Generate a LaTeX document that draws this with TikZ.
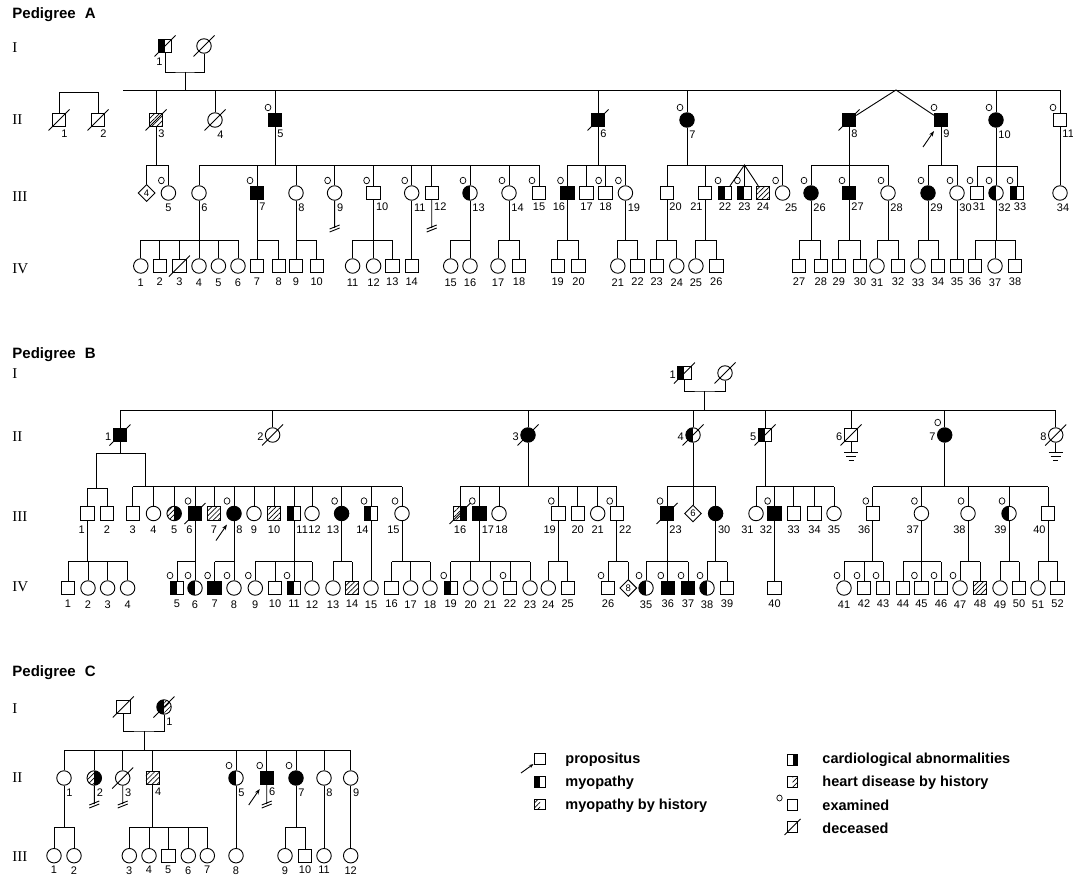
\documentclass[tikz,border=0pt]{standalone}
\usepackage{fontspec}
\setmainfont{Liberation Serif}
\setsansfont{Liberation Sans}
\usetikzlibrary{shapes.geometric,arrows.meta,patterns.meta}

% marks on a person
\newcommand{\deceased}[1]{\draw (#1.center) ++(-10.5,10.5) -- ++(21,-21);}
\newcommand{\examined}[1]{\draw[line width=0.7pt] (#1.center) ++(-7,-12.5) ellipse[x radius=2.9pt,y radius=3.3pt];}
\newcommand{\propos}[1]{\draw[-{Stealth[length=5.5pt,width=4pt]}] (#1.center) ++(-18,27) -- ++(11,-16);}
\newcommand{\noissue}[2][35]{\draw (#2) -- ++(0,#1) ++(-5,1) -- ++(10,-4) ++(-10,7) -- ++(10,-4);}
\newcommand{\ground}[1]{\draw (#1) -- ++(0,17) ++(-7,0) -- ++(14,0) ++(-12,4) -- ++(10,0) ++(-7.5,4) -- ++(5,0);}
% sibship bar: junction, first, last, all children
\newcommand{\sibship}[4]{\draw (#2 |- #1) -- (#3 |- #1);
  \foreach \kid in {#4} {\draw (\kid) -- (\kid |- #1);}}

\tikzset{
  male/.style={draw, rectangle, minimum size=13.5pt, inner sep=0pt},
  fem/.style={draw, circle, minimum size=14.5pt, inner sep=0pt},
  unk/.style={draw, diamond, minimum size=17pt, inner sep=0pt, font=\sffamily\fontsize{9.5}{9.5}\selectfont},
  hatchpat/.style={pattern={Lines[angle=45,distance=3.5pt,line width=0.7pt]}},
  full/.style={fill=black},
  hatch/.style={hatchpat},
  myo/.style={path picture={\fill (path picture bounding box.south west) rectangle (path picture bounding box.north);}},
  card/.style={path picture={\fill (path picture bounding box.south) rectangle (path picture bounding box.north east);}},
  myoh/.style={path picture={\fill[hatchpat] (path picture bounding box.south west) rectangle (path picture bounding box.north);}},
  heart/.style={path picture={\fill[hatchpat] (path picture bounding box.south) rectangle (path picture bounding box.north east);}},
  myohcard/.style={path picture={\fill[hatchpat] (path picture bounding box.south west) rectangle (path picture bounding box.north);
    \fill (path picture bounding box.south) rectangle (path picture bounding box.north east);}},
  myoheart/.style={path picture={\fill (path picture bounding box.south west) rectangle (path picture bounding box.north);
    \fill[hatchpat] (path picture bounding box.south) rectangle (path picture bounding box.north east);}},
  num/.style={font=\sffamily\fontsize{11}{12}\selectfont, inner sep=1pt},
  nr/.style={label={[num,anchor=north west,xshift=1pt,yshift=-1.5pt]south:#1}},
  nl/.style={label={[num,anchor=north east,xshift=-1pt,yshift=-1.5pt]south:#1}},
  nb/.style={label={[num,yshift=-1.5pt]south:#1}},
  nbx/.style 2 args={label={[num,yshift=-1.5pt,xshift=#2]south:#1}},
  Nr/.style={label={[num,anchor=north west,xshift=1pt,yshift=-3.5pt]south:#1}},
  Nl/.style={label={[num,anchor=north east,xshift=-1pt,yshift=-3.5pt]south:#1}},
  Nb/.style={label={[num,yshift=-3.5pt]south:#1}},
  Nbx/.style 2 args={label={[num,yshift=-3.5pt,xshift=#2]south:#1}},
  nw/.style={label={[num,yshift=-2pt]west:#1}},
  gen/.style={font=\fontsize{15}{15}\selectfont, anchor=west, inner sep=0pt},
  title/.style={font=\sffamily\bfseries\fontsize{15}{15}\selectfont, anchor=base west, inner sep=0pt},
  leg/.style={font=\sffamily\bfseries\fontsize{14.5}{14.5}\selectfont, anchor=base west, inner sep=0pt},
  lsym/.style={minimum size=10.5pt},
}

\begin{document}
\begin{tikzpicture}[x=1pt,y=-1pt,line width=0.9pt]

\useasboundingbox (0,0) rectangle (1073,877);

% ================= Pedigree A =================
\node[title] (ta) at (12,19) {Pedigree\hspace{0.6em}A};
\node[gen] (ga1) at (12,47.5) {I};
\node[gen] (ga2) at (12,120) {II};
\node[gen] (ga3) at (12,196.5) {III};
\node[gen] (ga4) at (12,269) {IV};

% generation I
\node[male,myo,Nl=1] (a1-1) at (165,46) {};
\node[fem] (a1-2) at (204,46) {};
\coordinate (a1m) at (185,72);
\coordinate (a2j) at (185,90);
\coordinate (a2l) at (123,90);
\draw (a1-1) |- (a1m) -| (a1-2);
\draw (a1m) -- (a2j);

% generation II
\node[male,nr=1] (a2-1) at (59,120) {};
\node[male,nr=2] (a2-2) at (98,120) {};
\node[male,hatch,nr=3] (a2-3) at (156,120) {};
\node[fem,nr=4] (a2-4) at (215,120) {};
\node[male,full,nr=5] (a2-5) at (275,120) {};
\node[male,full,nr=6] (a2-6) at (598,120) {};
\node[fem,full,nr=7] (a2-7) at (687,120) {};
\node[male,full,nr=8] (a2-8) at (849,120) {};
\node[male,full,nr=9] (a2-9) at (941,120) {};
\node[fem,full,nr=10] (a2-10) at (996,120) {};
\node[male,nr=11] (a2-11) at (1060,120) {};

\draw (a2l) -- (a2-11 |- a2j);
\foreach \kid in {a2-3,a2-4,a2-5,a2-6,a2-7,a2-10,a2-11} {\draw (\kid) -- (\kid |- a2j);}
\coordinate (atw) at (896,90);
\draw (a2-8) -- (atw) -- (a2-9);
\coordinate (a2k) at (78,92);
\sibship{a2k}{a2-1}{a2-2}{a2-1,a2-2}

% generation III
\node[unk] (a3-4) at (146.6,193) {4};
\node[fem,nb=5] (a3-5) at (168.4,193) {};
\node[fem,nr=6] (a3-6) at (199,193) {};
\node[male,full,nr=7] (a3-7) at (257,193) {};
\node[fem,nr=8] (a3-8) at (296,193) {};
\node[fem,nr=9] (a3-9) at (334.6,193) {};
\node[male,nr=10] (a3-10) at (373.6,193) {};
\node[fem,nr=11] (a3-11) at (411.7,193) {};
\node[male,nr=12] (a3-12) at (431.7,193) {};
\node[fem,myo,nr=13] (a3-13) at (470,193) {};
\node[fem,nr=14] (a3-14) at (509,193) {};
\node[male,nb=15] (a3-15) at (539,193) {};
\node[male,full,nl=16] (a3-16) at (567.5,193) {};
\node[male,nb=17] (a3-17) at (586.6,193) {};
\node[male,nb=18] (a3-18) at (605.6,193) {};
\node[fem,nr=19] (a3-19) at (625.4,193) {};
\node[male,nr=20] (a3-20) at (667,193) {};
\node[male,nl=21] (a3-21) at (705,193) {};
\node[male,myo,nb=22] (a3-22) at (725,193) {};
\node[male,myo,nb=23] (a3-23) at (744.4,193) {};
\node[male,hatch,nb=24] (a3-24) at (763,193) {};
\node[fem,nr=25] (a3-25) at (782.6,193) {};
\node[fem,full,nr=26] (a3-26) at (811,193) {};
\node[male,full,nr=27] (a3-27) at (849,193) {};
\node[fem,nr=28] (a3-28) at (888,193) {};
\node[fem,full,nr=29] (a3-29) at (928,193) {};
\node[fem,nr=30] (a3-30) at (957,193) {};
\node[male,nbx={31}{2pt}] (a3-31) at (977,193) {};
\node[fem,myo,nr=32] (a3-32) at (996,193) {};
\node[male,myo,nbx={33}{3pt}] (a3-33) at (1017,193) {};
\node[fem,nbx={34}{3pt}] (a3-34) at (1060,193) {};

\coordinate (a3j3) at (156,165);
\coordinate (a3j5) at (275,165);
\coordinate (a3j6) at (598,165);
\coordinate (a3j7) at (687,165);
\coordinate (atr) at (744.4,165);
\coordinate (a3j8) at (849,165);
\coordinate (a3j9) at (941,165);
\coordinate (a3j10) at (996,166);
\draw (a2-3) -- (a3j3);
\draw (a2-5) -- (a3j5);
\draw (a2-6) -- (a3j6);
\draw (a2-7) -- (a3j7);
\draw (a2-8) -- (a3j8);
\draw (a2-9) -- (a3j9);
\draw (a2-10) -- (a3j10);
\draw (a2-11) -- (a3-34);
\sibship{a3j3}{a3-4}{a3-5}{a3-4,a3-5}
\sibship{a3j5}{a3-6}{a3-15}{a3-6,a3-7,a3-8,a3-9,a3-10,a3-11,a3-12,a3-13,a3-14,a3-15}
\sibship{a3j6}{a3-16}{a3-19}{a3-16,a3-17,a3-18,a3-19}
\sibship{a3j7}{a3-20}{a3-25}{a3-20,a3-21,a3-25}
\draw (a3-22) -- (atr) -- (a3-24);
\draw (atr) -- (a3-23);
\sibship{a3j8}{a3-26}{a3-28}{a3-26,a3-27,a3-28}
\sibship{a3j9}{a3-29}{a3-30}{a3-29,a3-30}
\sibship{a3j10}{a3-31}{a3-33}{a3-31,a3-32,a3-33}

% generation IV
\node[fem,Nb=1] (a4-1) at (140.8,266) {};
\node[male,Nb=2] (a4-2) at (159.7,266) {};
\node[male,Nb=3] (a4-3) at (179.4,266) {};
\node[fem,Nb=4] (a4-4) at (199,266) {};
\node[fem,Nb=5] (a4-5) at (218.4,266) {};
\node[fem,Nb=6] (a4-6) at (238,266) {};
\node[male,Nb=7] (a4-7) at (257,266) {};
\node[male,Nb=8] (a4-8) at (278.8,266) {};
\node[male,Nb=9] (a4-9) at (296,266) {};
\node[male,Nb=10] (a4-10) at (316.7,266) {};
\node[fem,Nb=11] (a4-11) at (352.6,266) {};
\node[fem,Nb=12] (a4-12) at (373.6,266) {};
\node[male,Nb=13] (a4-13) at (392.3,266) {};
\node[male,Nb=14] (a4-14) at (411.7,266) {};
\node[fem,Nb=15] (a4-15) at (450.7,266) {};
\node[fem,Nb=16] (a4-16) at (470,266) {};
\node[fem,Nb=17] (a4-17) at (498,266) {};
\node[male,Nb=18] (a4-18) at (519,266) {};
\node[male,Nb=19] (a4-19) at (557.7,266) {};
\node[male,Nb=20] (a4-20) at (578.6,266) {};
\node[fem,Nb=21] (a4-21) at (617.8,266) {};
\node[male,Nb=22] (a4-22) at (637.6,266) {};
\node[male,Nb=23] (a4-23) at (656.7,266) {};
\node[fem,Nb=24] (a4-24) at (676.8,266) {};
\node[fem,Nb=25] (a4-25) at (695.9,266) {};
\node[male,Nb=26] (a4-26) at (716.3,266) {};
\node[male,Nb=27] (a4-27) at (799,266) {};
\node[male,Nb=28] (a4-28) at (820.8,266) {};
\node[male,Nb=29] (a4-29) at (838.8,266) {};
\node[male,Nb=30] (a4-30) at (860,266) {};
\node[fem,Nb=31] (a4-31) at (877,266) {};
\node[male,Nb=32] (a4-32) at (898,266) {};
\node[fem,Nb=33] (a4-33) at (918,266) {};
\node[male,Nb=34] (a4-34) at (938,266) {};
\node[male,Nb=35] (a4-35) at (957,266) {};
\node[male,Nb=36] (a4-36) at (975,266) {};
\node[fem,Nb=37] (a4-37) at (995,266) {};
\node[male,Nb=38] (a4-38) at (1015,266) {};

\coordinate (a4j6) at (199,240);
\coordinate (a4j7) at (257,240);
\coordinate (a4j8) at (296,240);
\coordinate (a4j10) at (373.6,240);
\coordinate (a4j13) at (470,240);
\coordinate (a4j14) at (509,240);
\coordinate (a4j16) at (567.5,240);
\coordinate (a4j19) at (625.4,240);
\coordinate (a4j20) at (667,240);
\coordinate (a4j21) at (705,240);
\coordinate (a4j26) at (811,240);
\coordinate (a4j27) at (849,240);
\coordinate (a4j28) at (888,240);
\coordinate (a4j29) at (928,240);
\coordinate (a4j32) at (996,240);
\foreach \prt/\jn in {a3-6/a4j6,a3-7/a4j7,a3-8/a4j8,a3-10/a4j10,a3-13/a4j13,a3-14/a4j14,a3-16/a4j16,a3-19/a4j19,a3-20/a4j20,a3-21/a4j21,a3-26/a4j26,a3-27/a4j27,a3-28/a4j28,a3-29/a4j29,a3-32/a4j32}
  {\draw (\prt) -- (\jn);}
\draw (a3-11) -- (a4-14);
\draw (a3-30) -- (a4-35);
\sibship{a4j6}{a4-1}{a4-6}{a4-1,a4-2,a4-3,a4-4,a4-5,a4-6}
\sibship{a4j7}{a4-7}{a4-8}{a4-7,a4-8}
\sibship{a4j8}{a4-9}{a4-10}{a4-9,a4-10}
\sibship{a4j10}{a4-11}{a4-13}{a4-11,a4-12,a4-13}
\sibship{a4j13}{a4-15}{a4-16}{a4-15,a4-16}
\sibship{a4j14}{a4-17}{a4-18}{a4-17,a4-18}
\sibship{a4j16}{a4-19}{a4-20}{a4-19,a4-20}
\sibship{a4j19}{a4-21}{a4-22}{a4-21,a4-22}
\sibship{a4j20}{a4-23}{a4-24}{a4-23,a4-24}
\sibship{a4j21}{a4-25}{a4-26}{a4-25,a4-26}
\sibship{a4j26}{a4-27}{a4-28}{a4-27,a4-28}
\sibship{a4j27}{a4-29}{a4-30}{a4-29,a4-30}
\sibship{a4j28}{a4-31}{a4-32}{a4-31,a4-32}
\sibship{a4j29}{a4-33}{a4-34}{a4-33,a4-34}
\sibship{a4j32}{a4-36}{a4-38}{a4-36,a4-37,a4-38}

% marks
\foreach \n in {a1-1,a1-2,a2-1,a2-2,a2-3,a2-4,a2-6,a2-8,a4-3} {\deceased{\n}}
\foreach \n in {a2-5,a2-7,a2-9,a2-10,a2-11,a3-5,a3-7,a3-9,a3-10,a3-11,a3-13,a3-14,a3-15,a3-16,a3-18,a3-19,a3-22,a3-23,a3-25,a3-26,a3-27,a3-28,a3-29,a3-30,a3-31,a3-32,a3-33} {\examined{\n}}
\propos{a2-9}
\noissue{a3-9}
\noissue{a3-12}

% ================= Pedigree B =================
\node[title] (tb) at (12,358.5) {Pedigree\hspace{0.6em}B};
\node[gen] (gb1) at (12,374) {I};
\node[gen] (gb2) at (12,437) {II};
\node[gen] (gb3) at (12,516.7) {III};
\node[gen] (gb4) at (12,586.7) {IV};

% generation I
\node[male,myo,nw=1] (b1-1) at (684.4,373) {};
\node[fem] (b1-2) at (725,373) {};
\coordinate (b1m) at (704.5,391);
\coordinate (b2j) at (704.5,410);
\draw (b1-1) |- (b1m) -| (b1-2);
\draw (b1m) -- (b2j);

% generation II
\node[male,full,nw=1] (b2-1) at (120,435) {};
\node[fem,nw=2] (b2-2) at (272.6,435) {};
\node[fem,full,nw=3] (b2-3) at (528,435) {};
\node[fem,myo,nw=4] (b2-4) at (693,435) {};
\node[male,myo,nw=5] (b2-5) at (765,435) {};
\node[male,nw=6] (b2-6) at (851,435) {};
\node[fem,full,nw=7] (b2-7) at (944.7,435) {};
\node[fem,nw=8] (b2-8) at (1055.7,435) {};
\sibship{b2j}{b2-1}{b2-8}{b2-1,b2-2,b2-3,b2-4,b2-5,b2-6,b2-7,b2-8}

% generation III
\node[male,Nl=1] (b3-1) at (87.3,513.5) {};
\node[male,Nb=2] (b3-2) at (107,513.5) {};
\node[male,Nb=3] (b3-3) at (132.8,513.5) {};
\node[fem,Nb=4] (b3-4) at (153.5,513.5) {};
\node[fem,myohcard,Nb=5] (b3-5) at (174.2,513.5) {};
\node[male,full,Nl=6] (b3-6) at (195,513.5) {};
\node[male,hatch,Nb=7] (b3-7) at (214,513.5) {};
\node[fem,full,Nr=8] (b3-8) at (234,513.5) {};
\node[fem,Nb=9] (b3-9) at (254,513.5) {};
\node[male,hatch,Nb=10] (b3-10) at (274,513.5) {};
\node[male,myo,Nr=11] (b3-11) at (294,513.5) {};
\node[fem,Nbx={12}{2.5pt}] (b3-12) at (312,513.5) {};
\node[fem,full,Nl=13] (b3-13) at (341.6,513.5) {};
\node[male,myo,Nl=14] (b3-14) at (371,513.5) {};
\node[fem,Nl=15] (b3-15) at (402,513.5) {};
\node[male,myohcard,Nb=16] (b3-16) at (460,513.5) {};
\node[male,full,Nr=17] (b3-17) at (479.3,513.5) {};
\node[fem,Nbx={18}{2.5pt}] (b3-18) at (499,513.5) {};
\node[male,Nl=19] (b3-19) at (558.3,513.5) {};
\node[male,Nb=20] (b3-20) at (577.7,513.5) {};
\node[fem,Nb=21] (b3-21) at (597.7,513.5) {};
\node[male,Nr=22] (b3-22) at (616.7,513.5) {};
\node[male,full,Nr=23] (b3-23) at (667,513.5) {};
\node[unk] (b3-u6) at (693,513.5) {6};
\node[fem,full,Nr=30] (b3-30) at (715.6,513.5) {};
\node[fem,Nl=31] (b3-31) at (756,513.5) {};
\node[male,full,Nl=32] (b3-32) at (774.6,513.5) {};
\node[male,Nb=33] (b3-33) at (793.7,513.5) {};
\node[male,Nb=34] (b3-34) at (814.5,513.5) {};
\node[fem,Nb=35] (b3-35) at (834,513.5) {};
\node[male,Nl=36] (b3-36) at (872.8,513.5) {};
\node[fem,Nl=37] (b3-37) at (921.4,513.5) {};
\node[fem,Nl=38] (b3-38) at (968,513.5) {};
\node[fem,myo,Nl=39] (b3-39) at (1009,513.5) {};
\node[male,Nl=40] (b3-40) at (1048,513.5) {};

\coordinate (b2j1) at (120,453);
\coordinate (b2j1l) at (96.6,453);
\coordinate (b2j1r) at (145,453);
\coordinate (b3j1a) at (96.6,488);
\coordinate (b3j1b) at (145,486.5);
\coordinate (b3j3) at (528,486.5);
\coordinate (b3j4) at (693,486.5);
\coordinate (b3j5) at (765,486.5);
\coordinate (b3j7) at (944.7,486.5);
\draw (b2-1) -- (b2j1);
\draw (b2j1l) -- (b2j1r);
\draw (b2j1l) -- (b3j1a);
\draw (b2j1r) -- (b3j1b);
\draw (b2-3) -- (b3j3);
\draw (b2-4) -- (b3j4);
\draw (b2-5) -- (b3j5);
\draw (b2-7) -- (b3j7);
\sibship{b3j1a}{b3-1}{b3-2}{b3-1,b3-2}
\sibship{b3j1b}{b3-3}{b3-15}{b3-3,b3-4,b3-5,b3-6,b3-7,b3-8,b3-9,b3-10,b3-11,b3-12,b3-13,b3-14,b3-15}
\sibship{b3j3}{b3-16}{b3-22}{b3-16,b3-17,b3-18,b3-19,b3-20,b3-21,b3-22}
\sibship{b3j4}{b3-23}{b3-30}{b3-23,b3-u6,b3-30}
\sibship{b3j5}{b3-31}{b3-35}{b3-31,b3-32,b3-33,b3-34,b3-35}
\sibship{b3j7}{b3-36}{b3-40}{b3-36,b3-37,b3-38,b3-39,b3-40}

% generation IV
\node[male,Nb=1] (b4-1) at (68,588) {};
\node[fem,Nb=2] (b4-2) at (88,588) {};
\node[fem,Nb=3] (b4-3) at (107.6,588) {};
\node[fem,Nb=4] (b4-4) at (127.6,588) {};
\node[male,myo,Nb=5] (b4-5) at (177,588) {};
\node[fem,myo,Nb=6] (b4-6) at (195,588) {};
\node[male,full,Nb=7] (b4-7) at (214.6,588) {};
\node[fem,Nb=8] (b4-8) at (234,588) {};
\node[fem,Nb=9] (b4-9) at (255.3,588) {};
\node[male,Nb=10] (b4-10) at (275,588) {};
\node[male,myo,Nb=11] (b4-11) at (294,588) {};
\node[fem,Nb=12] (b4-12) at (312,588) {};
\node[fem,Nb=13] (b4-13) at (333,588) {};
\node[male,hatch,Nb=14] (b4-14) at (352,588) {};
\node[fem,Nb=15] (b4-15) at (371,588) {};
\node[male,Nb=16] (b4-16) at (391.6,588) {};
\node[fem,Nb=17] (b4-17) at (410.6,588) {};
\node[fem,Nb=18] (b4-18) at (430,588) {};
\node[male,myo,Nb=19] (b4-19) at (450.7,588) {};
\node[fem,Nb=20] (b4-20) at (470.7,588) {};
\node[fem,Nb=21] (b4-21) at (490,588) {};
\node[male,Nb=22] (b4-22) at (510,588) {};
\node[fem,Nb=23] (b4-23) at (530,588) {};
\node[fem,Nb=24] (b4-24) at (548.3,588) {};
\node[male,Nb=25] (b4-25) at (567.7,588) {};
\node[male,Nb=26] (b4-26) at (608,588) {};
\node[unk] (b4-u8) at (628.3,588) {8};
\node[fem,myo,Nb=35] (b4-35) at (646,588) {};
\node[male,full,Nb=36] (b4-36) at (667.8,588) {};
\node[male,full,Nb=37] (b4-37) at (688,588) {};
\node[fem,myo,Nb=38] (b4-38) at (707,588) {};
\node[male,Nb=39] (b4-39) at (727,588) {};
\node[male,Nb=40] (b4-40) at (774.6,588) {};
\node[fem,Nb=41] (b4-41) at (844,588) {};
\node[male,Nb=42] (b4-42) at (864,588) {};
\node[male,Nb=43] (b4-43) at (883,588) {};
\node[male,Nb=44] (b4-44) at (903,588) {};
\node[male,Nb=45] (b4-45) at (921.4,588) {};
\node[male,Nb=46] (b4-46) at (941,588) {};
\node[fem,Nb=47] (b4-47) at (960,588) {};
\node[male,hatch,Nb=48] (b4-48) at (980,588) {};
\node[fem,Nb=49] (b4-49) at (1000,588) {};
\node[male,Nb=50] (b4-50) at (1019,588) {};
\node[fem,Nb=51] (b4-51) at (1038,588) {};
\node[male,Nb=52] (b4-52) at (1057.5,588) {};

\coordinate (b4j1) at (87.3,561.7);
\coordinate (b4j6) at (195,561.7);
\coordinate (b4j8) at (234,561.7);
\coordinate (b4j11) at (294,561.7);
\coordinate (b4j13) at (341.6,561.7);
\coordinate (b4j15) at (402,561.7);
\coordinate (b4j17) at (479.3,561.7);
\coordinate (b4j19) at (558.3,561.7);
\coordinate (b4j22) at (616.7,561.7);
\coordinate (b4j23) at (667,561.7);
\coordinate (b4j30) at (715.6,561.7);
\coordinate (b4j36) at (872.8,561.7);
\coordinate (b4j37) at (921.4,561.7);
\coordinate (b4j38) at (968,561.7);
\coordinate (b4j39) at (1009,561.7);
\coordinate (b4j40) at (1048,561.7);
\foreach \prt/\jn in {b3-1/b4j1,b3-6/b4j6,b3-8/b4j8,b3-11/b4j11,b3-13/b4j13,b3-15/b4j15,b3-17/b4j17,b3-19/b4j19,b3-22/b4j22,b3-23/b4j23,b3-30/b4j30,b3-36/b4j36,b3-37/b4j37,b3-38/b4j38,b3-39/b4j39,b3-40/b4j40}
  {\draw (\prt) -- (\jn);}
\draw (b3-14) -- (b4-15);
\draw (b3-32) -- (b4-40);
\sibship{b4j1}{b4-1}{b4-4}{b4-1,b4-2,b4-3,b4-4}
\sibship{b4j6}{b4-5}{b4-6}{b4-5,b4-6}
\sibship{b4j8}{b4-7}{b4-8}{b4-7,b4-8}
\sibship{b4j11}{b4-9}{b4-12}{b4-9,b4-10,b4-11,b4-12}
\sibship{b4j13}{b4-13}{b4-14}{b4-13,b4-14}
\sibship{b4j15}{b4-16}{b4-18}{b4-16,b4-17,b4-18}
\sibship{b4j17}{b4-19}{b4-23}{b4-19,b4-20,b4-21,b4-22,b4-23}
\sibship{b4j19}{b4-24}{b4-25}{b4-24,b4-25}
\sibship{b4j22}{b4-26}{b4-u8}{b4-26,b4-u8}
\sibship{b4j23}{b4-35}{b4-37}{b4-35,b4-36,b4-37}
\sibship{b4j30}{b4-38}{b4-39}{b4-38,b4-39}
\sibship{b4j36}{b4-41}{b4-43}{b4-41,b4-42,b4-43}
\sibship{b4j37}{b4-44}{b4-46}{b4-44,b4-45,b4-46}
\sibship{b4j38}{b4-47}{b4-48}{b4-47,b4-48}
\sibship{b4j39}{b4-49}{b4-50}{b4-49,b4-50}
\sibship{b4j40}{b4-51}{b4-52}{b4-51,b4-52}

% marks
\foreach \n in {b1-1,b1-2,b2-1,b2-2,b2-3,b2-4,b2-5,b2-6,b2-8,b3-6,b3-16,b3-23} {\deceased{\n}}
\foreach \n in {b2-7,b3-6,b3-8,b3-13,b3-14,b3-15,b3-17,b3-19,b3-22,b3-23,b3-32,b3-36,b3-37,b3-38,b3-39,b4-5,b4-6,b4-7,b4-8,b4-9,b4-11,b4-19,b4-22,b4-26,b4-35,b4-36,b4-37,b4-38,b4-41,b4-42,b4-43,b4-45,b4-46,b4-47} {\examined{\n}}
\propos{b3-8}
\ground{b2-6}
\ground{b2-8}

% ================= Pedigree C =================
\node[title] (tc) at (12,676.7) {Pedigree\hspace{0.6em}C};
\node[gen] (gc1) at (12,709) {I};
\node[gen] (gc2) at (12,778) {II};
\node[gen] (gc3) at (12,856.7) {III};

% generation I
\node[male] (c1-1) at (123.3,707) {};
\node[fem,myoheart,nr=1] (c1-2) at (164,707) {};
\coordinate (c1m) at (144,731);
\coordinate (c2j) at (144,750);
\draw (c1-1) |- (c1m) -| (c1-2);
\draw (c1m) -- (c2j);

% generation II
\node[fem,nr=1] (c2-1) at (64,778) {};
\node[fem,myohcard,nr=2] (c2-2) at (94.3,778) {};
\node[fem,nr=3] (c2-3) at (122.7,778) {};
\node[male,hatch,nr=4] (c2-4) at (152.7,778) {};
\node[fem,myo,nr=5] (c2-5) at (236,778) {};
\node[male,full,nr=6] (c2-6) at (266.7,778) {};
\node[fem,full,nr=7] (c2-7) at (296,778) {};
\node[fem,nr=8] (c2-8) at (324,778) {};
\node[fem,nr=9] (c2-9) at (350.7,778) {};
\sibship{c2j}{c2-1}{c2-9}{c2-1,c2-2,c2-3,c2-4,c2-5,c2-6,c2-7,c2-8,c2-9}

% generation III
\node[fem,nb=1] (c3-1) at (54,855.7) {};
\node[fem,nb=2] (c3-2) at (74,855.7) {};
\node[fem,nb=3] (c3-3) at (129.3,855.7) {};
\node[fem,nb=4] (c3-4) at (149,855.7) {};
\node[male,nb=5] (c3-5) at (168.3,855.7) {};
\node[fem,nb=6] (c3-6) at (188.3,855.7) {};
\node[fem,nb=7] (c3-7) at (207.3,855.7) {};
\node[fem,nb=8] (c3-8) at (236,855.7) {};
\node[fem,nb=9] (c3-9) at (285,855.7) {};
\node[male,nb=10] (c3-10) at (305,855.7) {};
\node[fem,nb=11] (c3-11) at (324,855.7) {};
\node[fem,nb=12] (c3-12) at (350.7,855.7) {};

\coordinate (c3j1) at (64,827.3);
\coordinate (c3j4) at (152.7,827.3);
\coordinate (c3j7) at (296,827.3);
\draw (c2-1) -- (c3j1);
\draw (c2-4) -- (c3j4);
\draw (c2-7) -- (c3j7);
\draw (c2-5) -- (c3-8);
\draw (c2-8) -- (c3-11);
\draw (c2-9) -- (c3-12);
\sibship{c3j1}{c3-1}{c3-2}{c3-1,c3-2}
\sibship{c3j4}{c3-3}{c3-7}{c3-3,c3-4,c3-5,c3-6,c3-7}
\sibship{c3j7}{c3-9}{c3-10}{c3-9,c3-10}

% marks
\foreach \n in {c1-1,c1-2,c2-3} {\deceased{\n}}
\foreach \n in {c2-5,c2-6,c2-7} {\examined{\n}}
\propos{c2-6}
\noissue[26]{c2-2}
\noissue[26]{c2-3}
\noissue[26]{c2-6}

% ================= legend =================
\node[male,lsym] (lg-prop) at (540,759) {};
\node[male,lsym,myo] (lg-myo) at (540,781.7) {};
\node[male,lsym,myoh] (lg-myoh) at (540,804.3) {};
\node[male,lsym,card] (lg-card) at (792.5,760) {};
\node[male,lsym,heart] (lg-heart) at (792.5,781.7) {};
\node[male,lsym] (lg-exam) at (792.5,805) {};
\node[male,lsym] (lg-dec) at (792.5,827) {};
\draw[-{Stealth[length=4.5pt,width=3.5pt]}] (lg-prop.center) ++(-19,14) -- ++(12.5,-9);
\draw[line width=0.7pt] (lg-exam.center) ++(-13,-7) ellipse[x radius=2.7pt,y radius=3pt];
\draw (lg-dec.center) ++(-8,8) -- ++(16,-16);

\node[leg] (lt-prop) at (565,763.3) {propositus};
\node[leg] (lt-myo) at (565,786) {myopathy};
\node[leg] (lt-myoh) at (565,809) {myopathy by history};
\node[leg] (lt-card) at (822,763.3) {cardiological abnormalities};
\node[leg] (lt-heart) at (822,786) {heart disease by history};
\node[leg] (lt-exam) at (822,810) {examined};
\node[leg] (lt-dec) at (822,833.3) {deceased};

\end{tikzpicture}
\end{document}
